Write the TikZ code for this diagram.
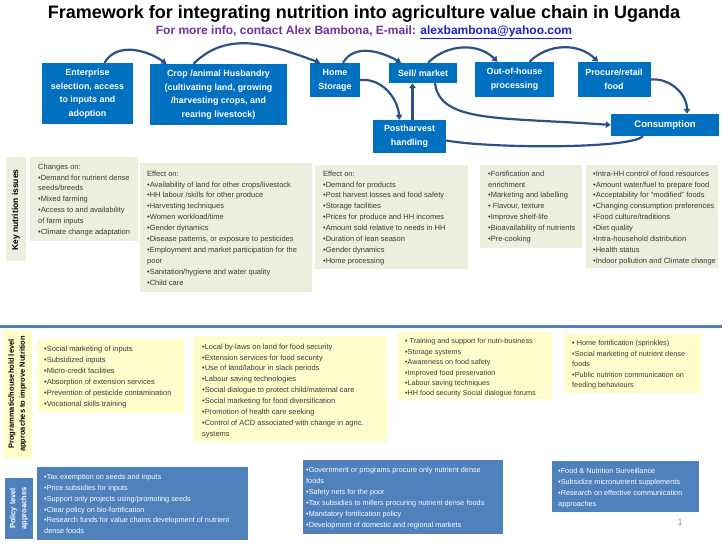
\documentclass[tikz,border=0pt]{standalone}
\usepackage{fontspec}
\setmainfont{Liberation Sans}
\usetikzlibrary{arrows.meta,positioning,calc}
\definecolor{vblue}{HTML}{0070C0}
\definecolor{varrow}{HTML}{2B5188}
\definecolor{vgreen}{HTML}{EBEFDD}
\definecolor{vyellow}{HTML}{FFFDCC}
\definecolor{vpolicy}{HTML}{4F81BD}
\definecolor{vpurple}{HTML}{7030A0}
\definecolor{vlink}{HTML}{1F1FCC}
\definecolor{vtext}{HTML}{3A3A3A}
\tikzset{
 stage/.style={fill=vblue, text=white, font=\bfseries\fontsize{8.9}{13.5}\selectfont, align=center, inner sep=0pt},
 flow/.style={varrow, line width=2.2pt, -{Triangle[length=5pt,width=6.5pt]}},
 itemtext/.style={anchor=north west, inner sep=0pt, align=left, text=vtext, font=\fontsize{7.5}{10.9}\selectfont},
 sidelabel/.style={rotate=90, align=center, font=\bfseries\fontsize{7.5}{11}\selectfont, inner sep=0pt}
}

\begin{document}
\begin{tikzpicture}[x=1pt,y=1pt]
 \useasboundingbox (0,0) rectangle (728,546);
 % heading
 \node[font=\bfseries\fontsize{18}{20}\selectfont] (title) at (364,532) {Framework for integrating nutrition into agriculture value chain in Uganda};
 \node[font=\bfseries\fontsize{12}{14}\selectfont, text=vpurple] (contact) at (364,514) {For more info, contact Alex Bambona, E-mail: \textcolor{vlink}{\underline{alexbambona@yahoo.com}}};

 % value chain stages
 \node[stage, minimum width=91pt, minimum height=61pt] (ent) at (87.5,452.5) {Enterprise\\selection, access\\to inputs and\\adoption};
 \node[stage, minimum width=137pt, minimum height=61pt] (crop) at (218.5,451.5) {Crop /animal Husbandry\\(cultivating land, growing\\/harvesting crops, and\\rearing  livestock)};
 \node[stage, minimum width=50pt, minimum height=34pt, font=\bfseries\fontsize{8.9}{14}\selectfont] (home) at (335,466) {Home\\Storage};
 \node[stage, minimum width=68pt, minimum height=20pt] (sell) at (423,473) {Sell/ market};
 \node[stage, minimum width=79pt, minimum height=35pt, font=\bfseries\fontsize{8.9}{14}\selectfont] (outp) at (514.5,466.5) {Out-of-house\\processing};
 \node[stage, minimum width=73pt, minimum height=35pt, font=\bfseries\fontsize{8.9}{14}\selectfont] (proc) at (614,466.5) {Procure/retail\\food};
 \node[stage, minimum width=73pt, minimum height=33pt, font=\bfseries\fontsize{8.9}{14}\selectfont] (post) at (409.5,409.5) {Postharvest\\handling};
 \node[stage, minimum width=108pt, minimum height=22pt, font=\bfseries\fontsize{9.5}{11}\selectfont] (cons) at (665,421) {Consumption};

 % flows between stages
 \draw[flow] ([xshift=17pt]ent.north) to[out=60,in=145] ([xshift=-52pt]crop.north);
 \draw[flow] ([xshift=-25pt]crop.north) to[out=45,in=160] ([xshift=-15pt]home.north);
 \draw[flow] ([xshift=8pt]home.north) to[out=60,in=150] ([xshift=-22pt]sell.north);
 \draw[flow] ([xshift=5pt]sell.north) to[out=45,in=135] ([xshift=-17pt]outp.north);
 \draw[flow] ([xshift=15pt]outp.north) to[out=45,in=135] ([xshift=-16pt]proc.north);
 \draw[flow] (proc.east) to[out=5,in=90] ([xshift=22pt]cons.north);
 \draw[flow] (home.east) to[out=5,in=95] ([xshift=-10pt]post.north);
 \draw[flow] ([xshift=3pt]post.north) -- ([xshift=-10.5pt]sell.south);
 \draw[flow] ([xshift=12pt]sell.south) .. controls +(5,-40) and +(-110,8) .. (cons.west);
 \draw[varrow, line width=2.2pt] ([yshift=-4pt]post.east) .. controls +(44,-8) and +(-13,-13) .. ([xshift=-22pt]cons.south);

 % key nutrition issues
 \fill[vgreen] (6,285) rectangle (26,389);
 \node[sidelabel, font=\bfseries\fontsize{8.5}{10}\selectfont] (keylab) at (16,336) {Key nutrition issues};
 \fill[vgreen] (30,305) rectangle (138,389);
 \node[itemtext] (k1) at (38,382.5) {Changes on:\\•Demand for nutrient dense\\seeds/breeds\\•Mixed farming\\•Access to and availability\\of farm inputs\\•Climate change adaptation};
 \fill[vgreen] (140,254) rectangle (312,383);
 \node[itemtext] (k2) at (147,375.5) {Effect on:\\•Availability of land for other crops/livestock\\•HH labour /skills for other produce\\•Harvesting techniques\\•Women workload/time\\•Gender  dynamics\\•Disease patterns, or exposure to pesticides\\•Employment and market participation for the\\poor\\•Sanitation/hygiene and water quality\\•Child care};
 \fill[vgreen] (315,277) rectangle (468,381);
 \node[itemtext] (k3) at (323,375.5) {Effect on:\\•Demand for products\\•Post harvest losses and food safety\\•Storage facilities\\•Prices for produce and HH incomes\\•Amount sold relative to needs in HH\\•Duration of lean season\\•Gender dynamics\\•Home processing};
 \fill[vgreen] (480,298) rectangle (582,381);
 \node[itemtext] (k4) at (488,375.5) {•Fortification and\\enrichment\\•Marketing and labelling\\• Flavour, texture\\•Improve shelf-life\\•Bioavailability of nutrients\\•Pre-cooking};
 \fill[vgreen] (586,278) rectangle (718,381);
 \node[itemtext] (k5) at (593,375.5) {•Intra-HH control of food resources\\•Amount water/fuel to prepare food\\•Acceptability for ``modified'' foods\\•Changing consumption preferences\\•Food culture/traditions\\•Diet quality\\•Intra-household distribution\\•Health status\\•Indoor pollution and Climate change};

 \draw[vpolicy, line width=3pt] (0,219) -- (722,219);

 % programmatic approaches
 \fill[vyellow] (3,88) rectangle (32,216);
 \node[sidelabel] (proglab) at (17.5,152) {Programmatic/household level\\approaches to improve Nutrition};
 \fill[vyellow] (37,133) rectangle (184,207);
 \node[itemtext, font=\fontsize{7.5}{11.1}\selectfont] (p1) at (44,200.5) {•Social marketing of inputs\\•Subsidized inputs\\•Micro-credit facilities\\•Absorption of extension services\\•Prevention of pesticide contamination\\•Vocational skills training};
 \fill[vyellow] (193,104) rectangle (387,210);
 \node[itemtext] (p2) at (202,202.5) {•Local by-laws on land for food security\\•Extension services for food security\\•Use of land/labour in slack periods\\•Labour saving technologies\\•Social dialogue to protect child/maternal care\\•Social marketing for food diversification\\•Promotion of health care seeking\\•Control of ACD associated with change in agric.\\systems};
 \fill[vyellow] (397,147) rectangle (552,214);
 \node[itemtext, font=\fontsize{7.2}{10.4}\selectfont] (p3) at (405,207.5) {• Training and support for  nutri-business\\•Storage systems\\•Awareness  on food safety\\•Improved food preservation\\•Labour saving techniques\\•HH food security Social dialogue forums};
 \fill[vyellow] (564,153) rectangle (701,212);
 \node[itemtext, font=\fontsize{7.3}{10.5}\selectfont] (p4) at (572,205.5) {• Home fortification (sprinkles)\\•Social marketing of nutrient dense\\foods\\•Public nutrition communication on\\feeding behaviours};

 % policy approaches
 \fill[vpolicy] (5,7) rectangle (33,68);
 \node[sidelabel, text=white] (pollab) at (19,37.5) {Policy level\\approaches};
 \fill[vpolicy] (37,6) rectangle (248,79);
 \node[itemtext, text=white, font=\fontsize{7.3}{10.7}\selectfont] (l1) at (44,71.5) {•Tax exemption on seeds and inputs\\•Price subsidies for inputs\\•Support only projects using/promoting seeds\\•Clear policy on bio-fortification\\•Research funds for  value chains development  of nutrient\\dense foods};
 \fill[vpolicy] (303,12) rectangle (503,86);
 \node[itemtext, text=white, font=\fontsize{7.3}{11}\selectfont] (l2) at (306,78.5) {•Government  or programs procure only nutrient dense\\foods\\•Safety nets for the poor\\•Tax subsidies to millers procuring nutrient dense foods\\•Mandatory fortification policy\\•Development of domestic and regional markets};
 \fill[vpolicy] (552,34) rectangle (699,85);
 \node[itemtext, text=white, font=\fontsize{7.3}{10.9}\selectfont] (l3) at (558,77.5) {•Food \& Nutrition Surveillance\\•Subsidize micronutrient supplements\\•Research on effective communication\\approaches};

 \node[text=black!45, font=\fontsize{9}{10}\selectfont] (pagenum) at (680,24) {1};
\end{tikzpicture}
\end{document}
